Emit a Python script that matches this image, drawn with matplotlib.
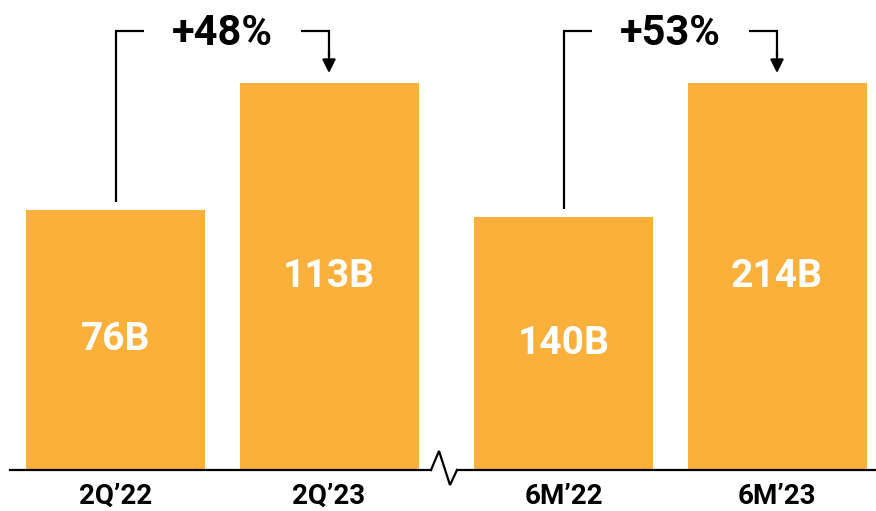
import matplotlib
matplotlib.use('Agg')
from matplotlib import pyplot as plt
from matplotlib.lines import Line2D

plt.rcParams['font.family'] = ['Roboto', 'DejaVu Sans']

# data
left_labels = ['2Q’22', '2Q’23']
left_values = [76, 113]
right_labels = ['6M’22', '6M’23']
right_values = [140, 214]
growth = ['+48%', '+53%']

bar_color = '#FBB03B'
W, H = 876, 511

fig = plt.figure(figsize=(W / 100, H / 100), dpi=100)

base_px = 470
top_px = 83          # pixel height reached by the tallest bar of each group
bracket_px = 31      # height of the bracket line


def fx(px):
    return px / W


def fy(py):
    return 1 - py / H


def draw_group(x0_px, x1_px, c0_px, step_px, labels, values, pct):
    ax = fig.add_axes([fx(x0_px), fy(base_px), fx(x1_px - x0_px), base_px / H])
    ytop = max(values) * base_px / (base_px - top_px)
    ax.set_ylim(0, ytop)
    ax.set_xlim((x0_px - c0_px) / step_px, (x1_px - c0_px) / step_px)
    xs = list(range(len(values)))
    ax.bar(xs, values, width=179 / step_px, color=bar_color)
    for x, v in zip(xs, values):
        ax.text(x, v / 2, f'{v}B', ha='center', va='center', color='white',
                fontsize=28, fontweight='bold')
    ax.set_xticks(xs, labels, fontsize=20, fontweight='bold')
    ax.tick_params(axis='x', length=0, pad=9)
    ax.set_yticks([])
    for s in ['top', 'left', 'right']:
        ax.spines[s].set_visible(False)
    ax.spines['bottom'].set_linewidth(1.6)
    ax.patch.set_alpha(0)

    # bracket with arrow
    px2d = ytop / base_px
    yb = (base_px - bracket_px) * px2d
    seg = 28 / step_px
    ax.plot([0, 0, seg], [values[0] + 8 * px2d, yb, yb], color='black', lw=1.6,
            solid_capstyle='butt', solid_joinstyle='miter', clip_on=False)
    ax.plot([1 - seg, 1, 1], [yb, yb, yb - 25 * px2d], color='black', lw=1.6,
            solid_capstyle='butt', solid_joinstyle='miter', clip_on=False)
    ax.annotate('', xy=(1, values[1] + 10 * px2d), xytext=(1, yb - 20 * px2d),
                arrowprops=dict(arrowstyle='-|>,head_length=0.8,head_width=0.4',
                                color='black', lw=1.6, shrinkA=0, shrinkB=0),
                annotation_clip=False)
    ax.text(0.5, (base_px - 33) * px2d, pct, ha='center', va='center',
            fontsize=30, fontweight='bold', color='black')
    return ax


draw_group(10, 431, 115.5, 213.5, left_labels, left_values, growth[0])
draw_group(457, 876, 563.5, 213.5, right_labels, right_values, growth[1])

# axis break zigzag
zx = [431, 439, 450, 457]
zy = [470, 451, 485, 470]
fig.add_artist(Line2D([fx(v) for v in zx], [fy(v) for v in zy], color='black',
                      lw=1.6, solid_joinstyle='miter'))

fig.savefig('out.png', dpi=100)
